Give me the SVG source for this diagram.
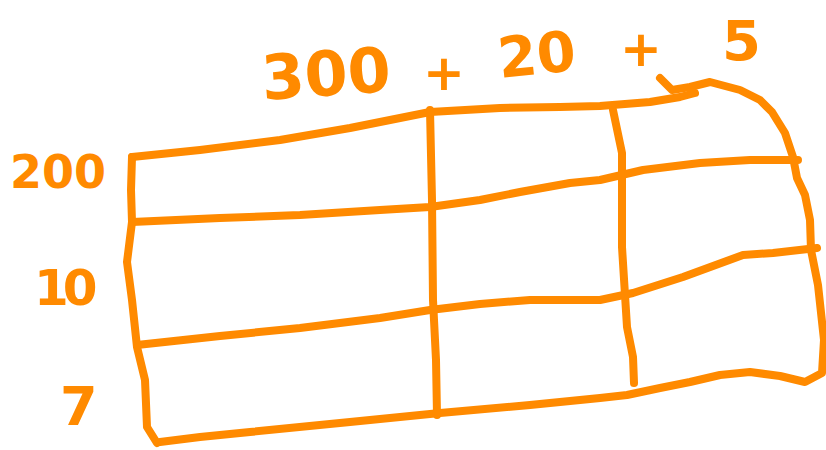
<svg xmlns="http://www.w3.org/2000/svg" width="826" height="450" viewBox="0 0 826 450">
<style>
.s{fill:none;stroke:#FF8A00;stroke-width:8;stroke-linecap:round;stroke-linejoin:round}
.t{fill:#FF8A00;font-family:"DejaVu Sans",sans-serif;font-weight:bold}
</style>
<rect width="826" height="450" fill="#fff"/>
<g id="grid">
<polyline class="s" points="132,157 200,150 280,140 350,128 400,118 430,112 500,108 560,107 600,106 650,102 680,97 695,93"/>
<polyline class="s" points="660,78 672,90 690,87 710,82 740,90 760,100 772,112 785,133 793,157 797,178 805,195 810,220 811,250 818,285 824,340 822,373 805,382 780,376 750,372 720,375 690,382 660,388 627,395 600,398 530,405 440,413 350,422 250,432 200,437 160,442"/>
<polyline class="s" points="132,157 131,190 132,222 127,262 132,300 137,347 145,380 147,427 157,443"/>
<polyline class="s" points="132,222 220,218 300,215 380,210 430,207 480,200 520,192 570,183 600,180 643,170 700,163 750,160 798,160"/>
<polyline class="s" points="137,345 220,336 300,328 380,318 430,310 480,304 530,300 600,300 633,293 683,277 743,255 773,253 817,248"/>
<polyline class="s" points="430,110 432,200 433,300 436,360 437,415"/>
<polyline class="s" points="613,110 622,153 622,247 627,327 633,357 634,383"/>
</g>
<g id="labels">
<text class="t" x="263" y="100" font-size="62" transform="rotate(-4 263 100)">300</text>
<text class="t" x="423" y="90" font-size="50">+</text>
<text class="t" x="500" y="78" font-size="56" transform="rotate(-6 500 78)">20</text>
<text class="t" x="620" y="66" font-size="50">+</text>
<text class="t" x="722" y="60" font-size="56">5</text>
<text class="t" x="10" y="188" font-size="46">200</text>
<text class="t" x="34" y="305" font-size="50" letter-spacing="-6">10</text>
<text class="t" x="60" y="425" font-size="54">7</text>
</g>
</svg>
